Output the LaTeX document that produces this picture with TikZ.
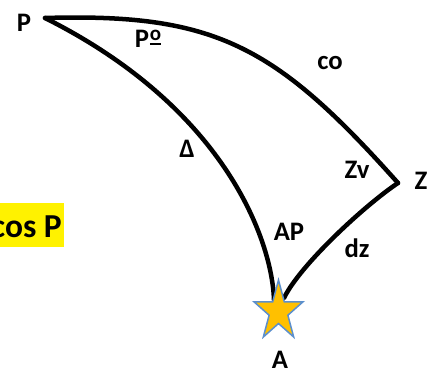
\documentclass[tikz,border=0pt]{standalone}
\usepackage{fontspec}
\setmainfont{Carlito}
\definecolor{starfill}{RGB}{255,192,0}
\definecolor{starline}{RGB}{91,143,205}
\newcommand\ordmasc{\kern1pt\rlap{\rule[2pt]{11pt}{2pt}}\raisebox{7pt}{\fontsize{21}{21}\selectfont o}}
\begin{document}
\begin{tikzpicture}[x=1pt,y=-1pt,
  arc/.style={line width=4.5pt,line cap=round,line join=round},
  lbl/.style={anchor=base,inner sep=0pt,font=\fontsize{26.7}{32}\selectfont\bfseries},
  hilite/.style={anchor=base east,fill=yellow,inner xsep=2pt,inner ysep=0pt,text height=34pt,text depth=10pt,font=\fontsize{33.5}{38}\selectfont\bfseries}]
\useasboundingbox (0,0) rectangle (445,372);
\coordinate (P) at (45,18);
\coordinate (Z) at (398,183);
\coordinate (AL) at (274,300);
\coordinate (AR) at (284,298);
% arcs
\draw[arc] (P) .. controls (215,13) and (275.5,45.5) .. (Z);
\draw[arc] (P) .. controls (225,108) and (272,240) .. (AL);
\draw[arc] (Z) .. controls (365,205) and (300,265) .. (AR);
% star
\draw[fill=starfill,draw=starline,line width=1.5pt,line join=miter]
  (278.5,280) -- (284.3,301.8) -- (303.04,301.77) -- (287.88,315.22) -- (293.67,336.98)
  -- (278.5,323.53) -- (263.33,336.98) -- (269.12,315.22) -- (253.96,301.77) -- (272.7,301.8) -- cycle;
% labels
\node[lbl] (lP) at (24,31) {P};
\node[lbl] (lPo) at (148,47) {P\ordmasc};
\node[lbl] (lco) at (330,69) {co};
\node[lbl] (lD) at (187,157) {Δ};
\node[lbl] (lZv) at (357,178) {Zv};
\node[lbl] (lZ) at (421,189) {Z};
\node[lbl] (lAP) at (289,240) {AP};
\node[lbl] (ldz) at (357,257) {dz};
\node[lbl] (lA) at (280,368) {A};
\node[hilite] (cosP) at (64,237) {cos P};
\end{tikzpicture}
\end{document}
